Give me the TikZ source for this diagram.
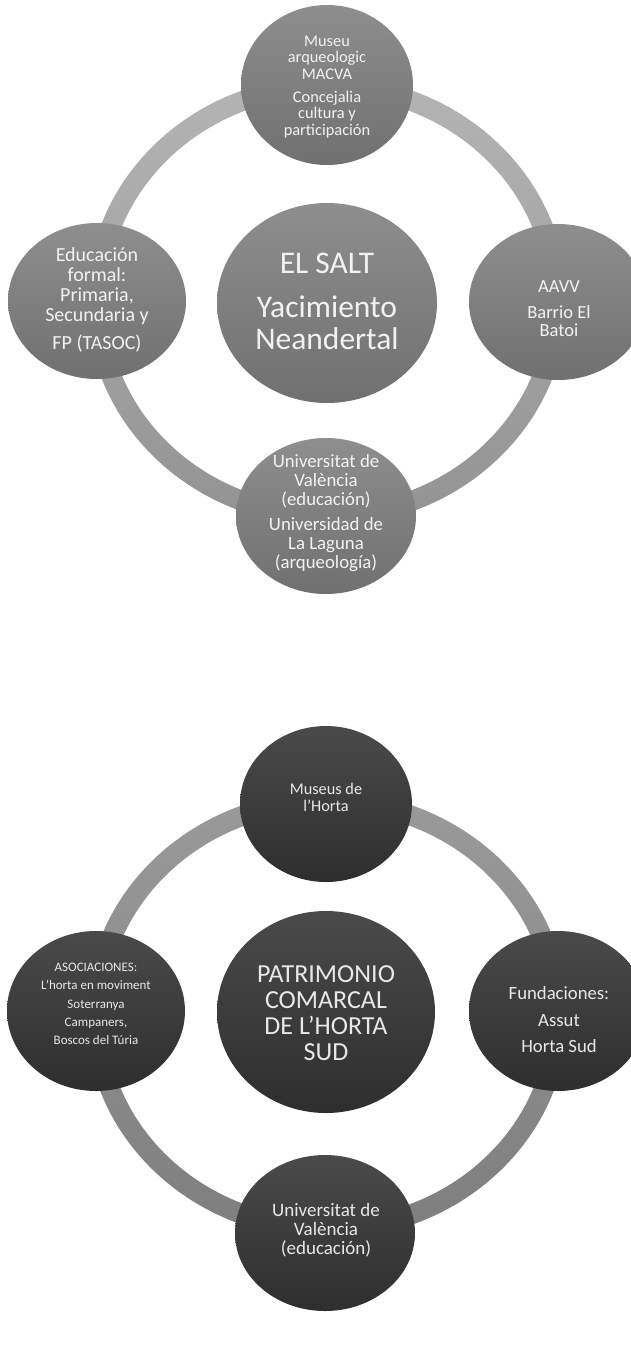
\documentclass[tikz,border=0pt]{standalone}
\usepackage{fontspec}
\setmainfont{Carlito}
\usetikzlibrary{shapes.geometric}
\definecolor{ringAtop}{HTML}{B4B4B4}
\definecolor{ringAbot}{HTML}{939393}
\definecolor{ringBtop}{HTML}{9A9A9A}
\definecolor{ringBbot}{HTML}{7E7E7E}
\definecolor{lgtop}{HTML}{8E8E8E}
\definecolor{lgbot}{HTML}{707070}
\definecolor{dktop}{HTML}{4A4A4A}
\definecolor{dkbot}{HTML}{2E2E2E}
\definecolor{lighttext}{HTML}{F2F2F2}
\definecolor{darktext}{HTML}{E8E8E8}
\begin{document}
\begin{tikzpicture}[x=1pt,y=-1pt,
  bub/.style={ellipse, draw=none, inner sep=0pt},
  lightbub/.style={bub, top color=lgtop, bottom color=lgbot},
  darkbub/.style={bub, top color=dktop, bottom color=dkbot},
  ltxt/.style={align=center, text=lighttext, inner sep=0pt},
  dtxt/.style={align=center, text=darktext, inner sep=0pt},
  fs/.style 2 args={font=\fontsize{#1}{#2}\selectfont}
]
\useasboundingbox (0,0) rectangle (631,1350);
\fill[white] (0,0) rectangle (631,1350);

% ---------------- top diagram ----------------
\coordinate (ringA) at (327,301);
\path[even odd rule, top color=ringAtop, bottom color=ringAbot]
  (ringA) ellipse [x radius=240, y radius=225]
  (ringA) ellipse [x radius=220, y radius=205];

\node[lightbub, minimum width=172, minimum height=160] (At) at (327,85) {};
\node[lightbub, minimum width=178, minimum height=156] (Al) at (97,301) {};
\node[lightbub, minimum width=220, minimum height=200] (Ac) at (327,303) {};
\node[lightbub, minimum width=178, minimum height=156] (Ar) at (558,302) {};
\node[lightbub, minimum width=180, minimum height=156] (Ab) at (326,516) {};

\node[ltxt, fs={16.4}{16.7}] (Att) at (327,87)
  {Museu\\arqueologic\\MACVA\\[6pt]Concejalia\\cultura y\\participación};
\node[ltxt, fs={20}{20}] (Alt) at (97,300)
  {Educación\\formal:\\Primaria,\\Secundaria y\\[8pt]FP (TASOC)};
\node[ltxt, fs={31.5}{31.5}] (Act) at (327,301)
  {EL SALT\\[13pt]Yacimiento\\Neandertal};
\node[ltxt, fs={18.5}{18}] (Art) at (559,309)
  {AAVV\\[8pt]Barrio El\\Batoi};
\node[ltxt, fs={18.8}{18.7}] (Abt) at (326,513)
  {Universitat de\\València\\(educación)\\[7pt]Universidad de\\La Laguna\\(arqueología)};

% ---------------- bottom diagram ----------------
\coordinate (ringB) at (327,1015);
\path[even odd rule, top color=ringBtop, bottom color=ringBbot]
  (ringB) ellipse [x radius=241, y radius=224]
  (ringB) ellipse [x radius=221, y radius=204];

\node[darkbub, minimum width=172, minimum height=156] (Bt) at (326,804) {};
\node[darkbub, minimum width=178, minimum height=160] (Bl) at (96,1011) {};
\node[darkbub, minimum width=218, minimum height=202] (Bc) at (326,1012) {};
\node[darkbub, minimum width=178, minimum height=160] (Br) at (558,1011) {};
\node[darkbub, minimum width=180, minimum height=156] (Bb) at (325,1233) {};

\node[dtxt, fs={16.3}{17}] (Btt) at (326,797)
  {Museus de\\l’Horta};
\node[dtxt, fs={13}{18.3}] (Blt) at (96,1004)
  {ASOCIACIONES:\\L’horta en moviment\\Soterranya\\Campaners,\\Boscos del Túria};
\node[dtxt, fs={26}{26}] (Bct) at (326,1013)
  {PATRIMONIO\\COMARCAL\\DE L’HORTA\\SUD};
\node[dtxt, fs={18.7}{26.5}] (Brt) at (559,1020)
  {Fundaciones:\\Assut\\Horta Sud};
\node[dtxt, fs={19}{19}] (Bbt) at (326,1230)
  {Universitat de\\València\\(educación)};
\end{tikzpicture}
\end{document}
